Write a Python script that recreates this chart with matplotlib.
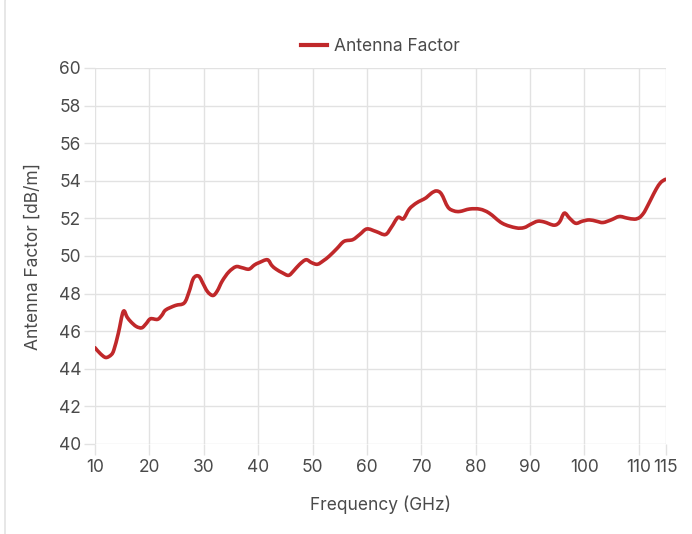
import matplotlib
matplotlib.use("Agg")
import matplotlib.pyplot as plt
from matplotlib.patches import FancyBboxPatch, PathPatch
from matplotlib.path import Path
from matplotlib.lines import Line2D

freq_ghz = [10, 11, 12, 13, 13.5, 14.3, 15.2, 15.9, 16.6, 17.6, 18.6, 19.4, 20.2, 21.5,
            22.3, 23, 24.8, 26.4, 27.3, 28, 28.6, 29.2, 29.75, 30.7, 31.7, 32.5, 33.4,
            34.6, 35.9, 37, 38.3, 39.3, 40.2, 41.7, 42.5, 43.3, 44.5, 45.6, 46.5, 47.6,
            48.8, 49.8, 50.9, 52, 53.1, 54.5, 55.8, 57.4, 58.7, 60, 61.7, 63.4, 64.5, 65.7,
            66.7, 67.8, 69, 70, 70.9, 71.9, 72.8, 73.7, 74.9, 76, 77.1, 78.9, 80.8, 82.5,
            84.9, 87.4, 88.9, 90.2, 91.4, 92.6, 94.4, 95.4, 96.3, 97.3, 98.4, 99.6, 100.9,
            102.2, 103.4, 104.9, 106.4, 107.8, 109.2, 110.1, 110.8, 111.3, 112.2, 113.2,
            114, 114.7, 115]
af_dbm = [45.12, 44.8, 44.6, 44.75, 45.03, 45.9, 47.05, 46.75, 46.5, 46.25, 46.18, 46.4,
          46.66, 46.63, 46.85, 47.13, 47.37, 47.5, 48.1, 48.75, 48.94, 48.9, 48.6, 48.1,
          47.9, 48.15, 48.67, 49.15, 49.43, 49.38, 49.3, 49.52, 49.65, 49.8, 49.5, 49.3,
          49.1, 48.97, 49.2, 49.55, 49.8, 49.65, 49.56, 49.75, 50.0, 50.4, 50.78, 50.87,
          51.15, 51.44, 51.3, 51.14, 51.53, 52.05, 51.98, 52.5, 52.8, 52.96, 53.1, 53.35,
          53.46, 53.3, 52.6, 52.4, 52.37, 52.5, 52.49, 52.28, 51.74, 51.5, 51.51, 51.7,
          51.85, 51.81, 51.64, 51.8, 52.28, 52.0, 51.74, 51.85, 51.92, 51.85, 51.78, 51.92,
          52.1, 52.02, 51.96, 52.04, 52.25, 52.49, 53.0, 53.56, 53.9, 54.05, 54.08]

x_ticks = [10, 20, 30, 40, 50, 60, 70, 80, 90, 100, 110, 115]
y_ticks = list(range(40, 61, 2))

plt.rcParams['font.family'] = ['Inter', 'DejaVu Sans']
text_color = '#4a4a4a'
grid_color = '#e2e2e2'
line_color = '#c0282a'
fs = 12.5

fig = plt.figure(figsize=(6.92, 5.34), dpi=100)
card = FancyBboxPatch((5 / 692, -20 / 534), 710 / 692, 559 / 534,
                      boxstyle="round,pad=0,rounding_size=0.012",
                      transform=fig.transFigure, facecolor='white',
                      edgecolor='#dddddd', linewidth=1.0, zorder=-10)
fig.patches.append(card)

ax = fig.add_axes([95 / 692, 90 / 534, 571 / 692, 376 / 534])
ax.set_zorder(1)
ax.set_facecolor('none')

# smooth curve (Catmull-Rom rendered as cubic Bezier segments) through the read points
verts = [(freq_ghz[0], af_dbm[0])]
codes = [Path.MOVETO]
n = len(freq_ghz)
for i in range(n - 1):
    x0, y0 = (freq_ghz[i - 1], af_dbm[i - 1]) if i > 0 else (freq_ghz[i], af_dbm[i])
    x1, y1 = freq_ghz[i], af_dbm[i]
    x2, y2 = freq_ghz[i + 1], af_dbm[i + 1]
    x3, y3 = (freq_ghz[i + 2], af_dbm[i + 2]) if i + 2 < n else (x2, y2)
    c1 = (x1 + (x2 - x0) / 6.0, y1 + (y2 - y0) / 6.0)
    c2 = (x2 - (x3 - x1) / 6.0, y2 - (y3 - y1) / 6.0)
    verts += [c1, c2, (x2, y2)]
    codes += [Path.CURVE4] * 3
curve = PathPatch(Path(verts, codes), facecolor='none', edgecolor=line_color,
                  linewidth=2.6, joinstyle='round', capstyle='round', zorder=3)
ax.add_patch(curve)

ax.set_xlim(10, 115)
ax.set_ylim(40, 60)
ax.set_xticks(x_ticks)
ax.set_yticks(y_ticks)
ax.set_xticklabels([str(t) for t in x_ticks])
ax.grid(True, color=grid_color, linewidth=1.0)
for s in ax.spines.values():
    s.set_visible(False)
ax.tick_params(axis='both', colors=grid_color, labelcolor=text_color, labelsize=fs,
               length=8, width=1.0)
ax.tick_params(axis='x', pad=3)
ax.tick_params(axis='y', pad=2)

ax.set_xlabel('Frequency (GHz)', color=text_color, fontsize=fs, labelpad=14)
ax.set_ylabel('Antenna Factor [dB/m]', color=text_color, fontsize=fs, labelpad=12)

handle = Line2D([], [], color=line_color, linewidth=3.0)
leg = ax.legend([handle], ['Antenna Factor'], loc='lower center',
                bbox_to_anchor=(0.5, 1.0), frameon=False,
                fontsize=fs, handlelength=1.5, handletextpad=0.4, borderaxespad=0.35)
for t in leg.get_texts():
    t.set_color(text_color)

fig.savefig('out.png', dpi=100)
